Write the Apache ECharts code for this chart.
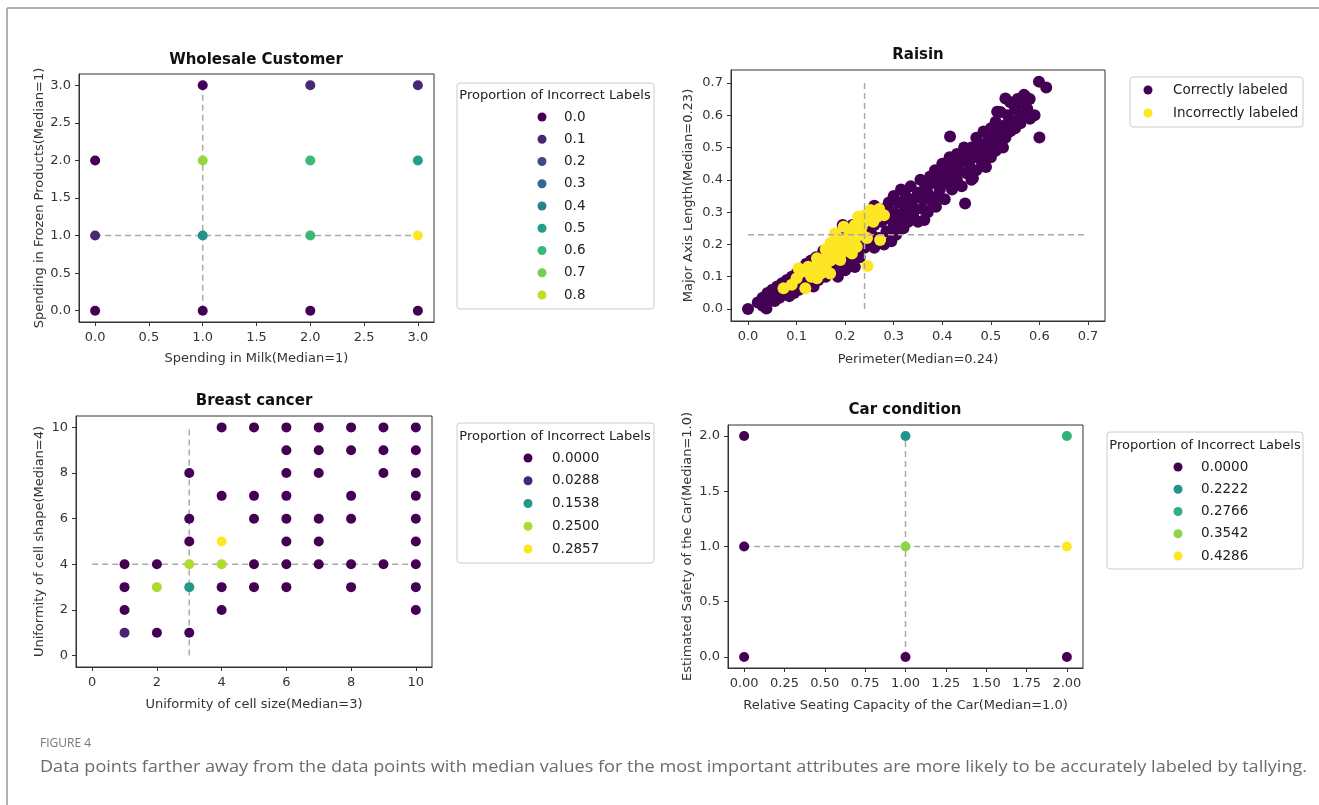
<!DOCTYPE html>
<html lang="en">
<head>
  <meta charset="UTF-8">
  <title>Figure 4</title>
  <script src="https://cdn.jsdelivr.net/npm/echarts@6/dist/echarts.min.js"></script>
  <style>
    body { margin: 0; background: #fff; }
    #main { width: 1319px; height: 805px; }
  </style>
</head>
<body>
  <div id="main"></div>
  <script>
    // viridis stops 0.0 .. 1.0
    var viridis = ['#440154', '#482475', '#414487', '#355f8d', '#2a788e', '#21918c',
      '#22a884', '#44bf70', '#7ad151', '#bddf26', '#fde725'];

    // Wholesale customer (milk vs frozen), p = proportion of incorrect labels
    var wsX = [0, 0, 0, 1, 1, 1, 1, 2, 2, 2, 2, 3, 3, 3, 3];
    var wsY = [2, 1, 0, 3, 2, 1, 0, 3, 2, 1, 0, 3, 2, 1, 0];
    var wsP = [0, 0.1, 0, 0, 0.75, 0.45, 0, 0.1, 0.6, 0.6, 0, 0.1, 0.5, 0.8889, 0];
    var wsMax = 0.8889;
    var wsLegend = [0.0, 0.1, 0.2, 0.3, 0.4, 0.5, 0.6, 0.7, 0.8];
    var wsTicks = [0, 0.5, 1, 1.5, 2, 2.5, 3];
    var wsMedian = [1, 1];

    // Raisin (perimeter vs major axis length)
    var raisinCorrect = [
      [0, 0], [0.038, 0.002], [0.028, 0.028], [0.02, 0.02], [0.03, 0.01], [0.03, 0.035], [0.04, 0.03],
      [0.04, 0.05], [0.05, 0.04], [0.05, 0.06], [0.055, 0.025], [0.06, 0.05], [0.06, 0.07], [0.065, 0.035],
      [0.07, 0.08], [0.075, 0.05], [0.08, 0.06], [0.08, 0.09], [0.085, 0.04], [0.09, 0.07], [0.09, 0.1],
      [0.095, 0.05], [0.1, 0.08], [0.1, 0.11], [0.105, 0.06], [0.11, 0.09], [0.11, 0.12], [0.115, 0.07],
      [0.12, 0.1], [0.12, 0.14], [0.125, 0.08], [0.13, 0.11], [0.13, 0.15], [0.135, 0.07], [0.14, 0.12],
      [0.14, 0.16], [0.145, 0.09], [0.15, 0.13], [0.155, 0.18], [0.16, 0.1], [0.165, 0.14], [0.17, 0.19],
      [0.175, 0.12], [0.18, 0.15], [0.185, 0.1], [0.19, 0.13], [0.19, 0.21], [0.2, 0.12], [0.2, 0.25],
      [0.195, 0.26], [0.21, 0.15], [0.215, 0.26], [0.22, 0.13], [0.225, 0.2], [0.23, 0.16], [0.235, 0.28],
      [0.24, 0.19], [0.245, 0.25], [0.25, 0.21], [0.25, 0.28], [0.25, 0.3], [0.255, 0.23], [0.26, 0.26],
      [0.26, 0.19], [0.26, 0.32], [0.265, 0.3], [0.27, 0.22], [0.275, 0.27], [0.28, 0.2], [0.28, 0.31],
      [0.285, 0.24], [0.29, 0.28], [0.29, 0.33], [0.295, 0.21], [0.3, 0.26], [0.3, 0.3], [0.3, 0.35],
      [0.305, 0.23], [0.31, 0.28], [0.31, 0.33], [0.315, 0.37], [0.32, 0.25], [0.32, 0.3], [0.325, 0.35],
      [0.33, 0.27], [0.33, 0.32], [0.335, 0.38], [0.34, 0.29], [0.34, 0.34], [0.345, 0.31], [0.35, 0.27],
      [0.35, 0.36], [0.355, 0.4], [0.36, 0.31], [0.36, 0.34], [0.365, 0.38], [0.37, 0.3], [0.37, 0.36],
      [0.375, 0.41], [0.38, 0.33], [0.38, 0.39], [0.385, 0.43], [0.39, 0.35], [0.39, 0.4], [0.395, 0.37],
      [0.4, 0.42], [0.4, 0.45], [0.405, 0.34], [0.41, 0.39], [0.41, 0.44], [0.415, 0.47], [0.42, 0.37],
      [0.42, 0.42], [0.425, 0.45], [0.43, 0.4], [0.43, 0.48], [0.435, 0.43], [0.44, 0.38], [0.44, 0.46],
      [0.445, 0.5], [0.45, 0.42], [0.45, 0.48], [0.455, 0.45], [0.46, 0.4], [0.46, 0.5], [0.465, 0.47],
      [0.47, 0.43], [0.47, 0.53], [0.475, 0.49], [0.48, 0.46], [0.48, 0.51], [0.485, 0.55], [0.49, 0.44],
      [0.49, 0.49], [0.495, 0.53], [0.5, 0.47], [0.5, 0.51], [0.5, 0.56], [0.505, 0.54], [0.51, 0.49],
      [0.51, 0.58], [0.515, 0.52], [0.52, 0.55], [0.52, 0.61], [0.525, 0.5], [0.53, 0.57], [0.53, 0.53],
      [0.535, 0.6], [0.54, 0.55], [0.54, 0.64], [0.545, 0.58], [0.55, 0.62], [0.55, 0.56], [0.555, 0.65],
      [0.56, 0.6], [0.565, 0.64], [0.57, 0.66], [0.575, 0.62], [0.58, 0.59], [0.58, 0.65], [0.59, 0.6],
      [0.6, 0.531], [0.599, 0.704], [0.614, 0.686], [0.581, 0.59], [0.447, 0.327], [0.363, 0.276],
      [0.387, 0.317], [0.463, 0.405], [0.416, 0.534], [0.516, 0.516], [0.533, 0.554], [0.53, 0.652],
      [0.568, 0.663], [0.554, 0.632], [0.513, 0.611], [0.561, 0.575]
    ];
    var raisinIncorrect = [
      [0.073, 0.064], [0.118, 0.064], [0.104, 0.126], [0.124, 0.131], [0.142, 0.095], [0.169, 0.11],
      [0.152, 0.152], [0.183, 0.172], [0.197, 0.203], [0.21, 0.234], [0.227, 0.286], [0.252, 0.307],
      [0.258, 0.27], [0.272, 0.214], [0.224, 0.193], [0.176, 0.193], [0.162, 0.162], [0.19, 0.152],
      [0.214, 0.172], [0.197, 0.255], [0.179, 0.234], [0.138, 0.131], [0.142, 0.157], [0.224, 0.239],
      [0.234, 0.255], [0.246, 0.133], [0.16, 0.13], [0.17, 0.15], [0.185, 0.16], [0.2, 0.18],
      [0.205, 0.22], [0.215, 0.24], [0.23, 0.26], [0.24, 0.29], [0.15, 0.11], [0.13, 0.1],
      [0.12, 0.12], [0.135, 0.115], [0.155, 0.135], [0.165, 0.175], [0.175, 0.17], [0.18, 0.2],
      [0.19, 0.185], [0.2, 0.21], [0.205, 0.195], [0.21, 0.2], [0.22, 0.215], [0.22, 0.26],
      [0.225, 0.25], [0.235, 0.23], [0.24, 0.27], [0.245, 0.22], [0.255, 0.29], [0.265, 0.285],
      [0.27, 0.31], [0.28, 0.29], [0.185, 0.22], [0.17, 0.205], [0.16, 0.185], [0.148, 0.14],
      [0.11, 0.115], [0.09, 0.075], [0.1, 0.095]
    ];
    var raisinTicks = [0, 0.1, 0.2, 0.3, 0.4, 0.5, 0.6, 0.7];
    var raisinMedian = [0.24, 0.23];
    var raisinLegend = ['Correctly labeled', 'Incorrectly labeled'];

    // Breast cancer (cell size vs cell shape)
    var bcX = [1, 1, 1, 1, 2, 2, 2, 3, 3, 3, 3, 3, 3, 4, 4, 4, 4, 4, 4, 5, 5, 5, 5, 5,
      6, 6, 6, 6, 6, 6, 6, 6, 7, 7, 7, 7, 7, 7, 8, 8, 8, 8, 8, 8, 9, 9, 9, 9,
      10, 10, 10, 10, 10, 10, 10, 10, 10];
    var bcY = [4, 3, 2, 1, 4, 3, 1, 8, 6, 5, 4, 3, 1, 10, 7, 5, 4, 3, 2, 10, 7, 6, 4, 3,
      10, 9, 8, 7, 6, 5, 4, 3, 10, 9, 8, 6, 5, 4, 10, 9, 7, 6, 4, 3, 10, 9, 8, 4,
      10, 9, 8, 7, 6, 5, 4, 3, 2];
    var bcP = [0, 0, 0, 0.0288, 0, 0.25, 0, 0, 0, 0, 0.25, 0.1538, 0, 0, 0, 0.2857, 0.25, 0, 0, 0, 0, 0, 0, 0,
      0, 0, 0, 0, 0, 0, 0, 0, 0, 0, 0, 0, 0, 0, 0, 0, 0, 0, 0, 0, 0, 0, 0, 0,
      0, 0, 0, 0, 0, 0, 0, 0, 0];
    var bcMax = 0.2857;
    var bcLegend = [0.0000, 0.0288, 0.1538, 0.2500, 0.2857];
    var bcTicks = [0, 2, 4, 6, 8, 10];
    var bcMedian = [3, 4];

    // Car condition (seating capacity vs safety)
    var carX = [0, 1, 2, 0, 1, 2, 0, 1, 2];
    var carY = [2, 2, 2, 1, 1, 1, 0, 0, 0];
    var carP = [0, 0.2222, 0.2766, 0, 0.3542, 0.4286, 0, 0, 0];
    var carMax = 0.4286;
    var carLegend = [0.0000, 0.2222, 0.2766, 0.3542, 0.4286];
    var carXTicks = [0, 0.25, 0.5, 0.75, 1, 1.25, 1.5, 1.75, 2];
    var carYTicks = [0, 0.5, 1, 1.5, 2];
    var carMedian = [1, 1];

    var FONT = 'DejaVu Sans';
    var myChart = echarts.init(document.getElementById('main'));

    function pts(xs, ys, ps) {
      return xs.map(function (x, i) { return [x, ys[i], ps[i]]; });
    }

    function valAxis(idx, min, max, ticks, dec, name, gap, isY) {
      return {
        type: 'value', gridIndex: idx, min: min, max: max,
        name: name, nameLocation: 'middle', nameGap: gap,
        nameTextStyle: { fontFamily: FONT, fontSize: 13, color: '#333' },
        axisLine: { show: true, onZero: false, lineStyle: { color: '#333', width: 1 } },
        axisTick: { show: true, length: 4, customValues: ticks, lineStyle: { color: '#333' } },
        axisLabel: {
          customValues: ticks, margin: isY ? 8 : 9,
          fontFamily: FONT, fontSize: 13, color: '#333',
          formatter: function (v) { return v.toFixed(dec); }
        },
        splitLine: { show: false }
      };
    }

    function medianLines(idx, med, x0, x1, y0, y1, z) {
      var ls = { color: '#aaa', width: 1.5, type: [6, 4] };
      return [
        { type: 'line', xAxisIndex: idx, yAxisIndex: idx, data: [[med[0], y0], [med[0], y1]], symbol: 'none', lineStyle: ls, silent: true, z: z },
        { type: 'line', xAxisIndex: idx, yAxisIndex: idx, data: [[x0, med[1]], [x1, med[1]]], symbol: 'none', lineStyle: ls, silent: true, z: z }
      ];
    }

    var series = [];
    // wholesale
    series = series.concat(medianLines(0, wsMedian, 0, 3, 0, 3, 1));
    var wsIdx = series.length;
    series.push({ type: 'scatter', xAxisIndex: 0, yAxisIndex: 0, symbolSize: 10, data: pts(wsX, wsY, wsP), itemStyle: { opacity: 1 }, z: 2 });
    // raisin
    series.push({ type: 'scatter', name: raisinLegend[0], xAxisIndex: 1, yAxisIndex: 1, symbolSize: 12, data: raisinCorrect, itemStyle: { color: '#440154', opacity: 1 }, z: 2 });
    series.push({ type: 'scatter', name: raisinLegend[1], xAxisIndex: 1, yAxisIndex: 1, symbolSize: 12, data: raisinIncorrect, itemStyle: { color: '#fde725', opacity: 1 }, z: 3 });
    series = series.concat(medianLines(1, raisinMedian, 0, 0.7, 0, 0.7, 4));
    // breast cancer
    series = series.concat(medianLines(2, bcMedian, 0, 10, 0, 10, 1));
    var bcIdx = series.length;
    series.push({ type: 'scatter', xAxisIndex: 2, yAxisIndex: 2, symbolSize: 10, data: pts(bcX, bcY, bcP), itemStyle: { opacity: 1 }, z: 2 });
    // car
    series = series.concat(medianLines(3, carMedian, 0, 2, 0, 2, 1));
    var carIdx = series.length;
    series.push({ type: 'scatter', xAxisIndex: 3, yAxisIndex: 3, symbolSize: 10, data: pts(carX, carY, carP), itemStyle: { opacity: 1 }, z: 2 });

    function vm(idx, max) {
      return { show: false, type: 'continuous', seriesIndex: idx, dimension: 2, min: 0, max: max, inRange: { color: viridis } };
    }

    function txt(x, y, s, size, weight, color, align) {
      return {
        type: 'text', x: x, y: y, silent: true,
        style: { text: s, fontFamily: FONT, fontSize: size, fontWeight: weight || 'normal', fill: color || '#111', align: align || 'center', verticalAlign: 'middle' }
      };
    }
    function box(x, y, w, h) {
      return { type: 'rect', shape: { x: x, y: y, width: w, height: h, r: 3 }, style: { fill: '#fff', stroke: '#ccc', lineWidth: 1 }, silent: true };
    }
    // legend rows: coloured dot + label
    function legendRows(labels, colors, dotX, textX, y0, step) {
      var out = [];
      labels.forEach(function (lab, i) {
        var y = y0 + i * step;
        out.push({ type: 'circle', shape: { cx: dotX, cy: y, r: 4.5 }, style: { fill: colors[i] }, silent: true, z: 2 });
        out.push(txt(textX, y, lab, 13.5, 'normal', '#222', 'left'));
      });
      return out;
    }
    function scaleColors(vals, max) {
      return vals.map(function (v) { return echarts.color.lerp(Math.min(v / max, 1), viridis); });
    }
    function fmt(vals, dec) {
      return vals.map(function (v) { return v.toFixed(dec); });
    }

    var graphics = [
      { type: 'line', shape: { x1: 7, y1: 8, x2: 7, y2: 805 }, style: { stroke: '#999', lineWidth: 1.5 }, silent: true },
      { type: 'line', shape: { x1: 7, y1: 8, x2: 1319, y2: 8 }, style: { stroke: '#999', lineWidth: 1.5 }, silent: true },
      box(457, 83, 197, 226),
      box(1130, 77, 173, 50),
      box(457, 423, 197, 140),
      box(1107, 432, 196, 137),
      txt(256, 60, 'Wholesale Customer', 15, 'bold'),
      txt(918, 55, 'Raisin', 15, 'bold'),
      txt(254, 401, 'Breast cancer', 15, 'bold'),
      txt(905, 410, 'Car condition', 15, 'bold'),
      txt(555, 96, 'Proportion of Incorrect Labels', 13, 'normal', '#222'),
      txt(555, 437, 'Proportion of Incorrect Labels', 13, 'normal', '#222'),
      txt(1205, 446, 'Proportion of Incorrect Labels', 13, 'normal', '#222'),
      {
        type: 'text', x: 40, y: 744, silent: true,
        style: { text: 'FIGURE 4', fontFamily: 'Open Sans', fontSize: 12, fill: '#777', verticalAlign: 'middle' }
      },
      {
        type: 'text', x: 40, y: 767, scaleX: 1.13, silent: true,
        style: { text: 'Data points farther away from the data points with median values for the most important attributes are more likely to be accurately labeled by tallying.', fontFamily: 'Open Sans', fontSize: 16, fill: '#6b6b6b', verticalAlign: 'middle' }
      }
    ];
    graphics = graphics
      .concat(legendRows(fmt(wsLegend, 1), scaleColors(wsLegend, wsMax), 542, 564, 117, 22.25))
      .concat(legendRows(raisinLegend, ['#440154', '#fde725'], 1148, 1173, 90, 23))
      .concat(legendRows(fmt(bcLegend, 4), scaleColors(bcLegend, bcMax), 528, 552, 458, 22.75))
      .concat(legendRows(fmt(carLegend, 4), scaleColors(carLegend, carMax), 1178, 1201, 467, 22.25));

    var option = {
      backgroundColor: '#fff',
      animation: false,
      grid: [
        { left: 79, top: 74, width: 355, height: 248, show: true, borderColor: '#333', borderWidth: 1 },
        { left: 731, top: 70, width: 374, height: 251, show: true, borderColor: '#333', borderWidth: 1 },
        { left: 76, top: 416, width: 356, height: 251, show: true, borderColor: '#333', borderWidth: 1 },
        { left: 728, top: 425, width: 355, height: 243, show: true, borderColor: '#333', borderWidth: 1 }
      ],
      xAxis: [
        valAxis(0, -0.15, 3.15, wsTicks, 1, 'Spending in Milk(Median=1)', 30, false),
        valAxis(1, -0.035, 0.735, raisinTicks, 1, 'Perimeter(Median=0.24)', 32, false),
        valAxis(2, -0.5, 10.5, bcTicks, 0, 'Uniformity of cell size(Median=3)', 31, false),
        valAxis(3, -0.1, 2.1, carXTicks, 2, 'Relative Seating Capacity of the Car(Median=1.0)', 31, false)
      ],
      yAxis: [
        valAxis(0, -0.15, 3.15, wsTicks, 1, 'Spending in Frozen Products(Median=1)', 32, true),
        valAxis(1, -0.037, 0.74, raisinTicks, 1, 'Major Axis Length(Median=0.23)', 36, true),
        valAxis(2, -0.5, 10.5, bcTicks, 0, 'Uniformity of cell shape(Median=4)', 30, true),
        valAxis(3, -0.1, 2.1, carYTicks, 1, 'Estimated Safety of the Car(Median=1.0)', 34, true)
      ],
      visualMap: [vm(wsIdx, wsMax), vm(bcIdx, bcMax), vm(carIdx, carMax)],
      graphic: graphics,
      series: series
    };
    myChart.setOption(option);
  </script>
</body>
</html>
